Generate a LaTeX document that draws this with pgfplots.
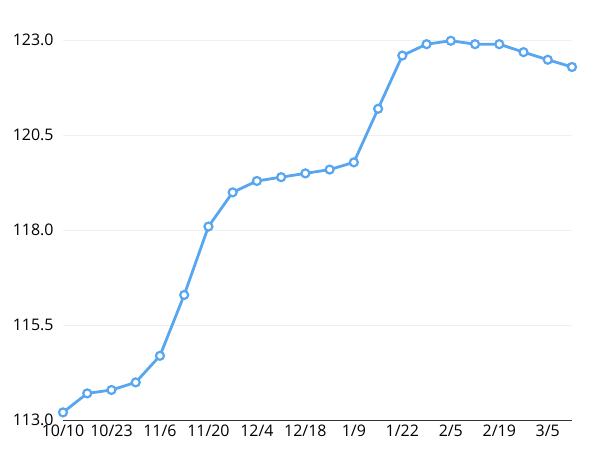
\documentclass[border=0pt]{standalone}
\usepackage{pgfplots}
\pgfplotsset{compat=1.18}
\usepackage{fontspec}
\setmainfont{Open Sans}
\definecolor{lineblue}{HTML}{58A6F0}
\definecolor{gridc}{HTML}{F0F0F0}
\definecolor{axc}{HTML}{333333}
\begin{document}
\begin{tikzpicture}
\useasboundingbox (-63bp,-38bp) rectangle (537bp,420bp);
\begin{axis}[
  at={(0,0)}, anchor=south west,
  scale only axis, width=509bp, height=380bp,
  xmin=0, xmax=21, ymin=113, ymax=123,
  clip=false,
  axis x line=bottom, axis y line=left,
  x axis line style={draw=axc, line width=0.8bp, -},
  y axis line style={draw=none},
  ytick={113,115.5,118,120.5,123},
  yticklabels={113.0,115.5,118.0,120.5,123.0},
  xtick={0,2,...,20},
  xticklabels={10/10,10/23,11/6,11/20,12/4,12/18,1/9,1/22,2/5,2/19,3/5},
  major tick length=0pt,
  ymajorgrids, grid style={draw=gridc, line width=0.8bp},
  tick label style={font=\fontsize{16}{19}\selectfont, text=black},
  /pgf/number format/assume math mode=true,
  xticklabel style={yshift=-1bp},
  yticklabel style={xshift=-6bp},
]
\addplot[lineblue, line width=2.8bp, mark=*, mark options={fill=white, draw=lineblue, line width=2.2bp}, mark size=4bp] coordinates {
(0,113.20) (1,113.70) (2,113.79) (3,113.99) (4,114.69) (5,116.29)
(6,118.09) (7,118.99) (8,119.29) (9,119.39) (10,119.49) (11,119.59)
(12,119.78) (13,121.19) (14,122.59) (15,122.89) (16,122.98) (17,122.89)
(18,122.89) (19,122.68) (20,122.48) (21,122.29)
};
\end{axis}
\end{tikzpicture}
\end{document}
